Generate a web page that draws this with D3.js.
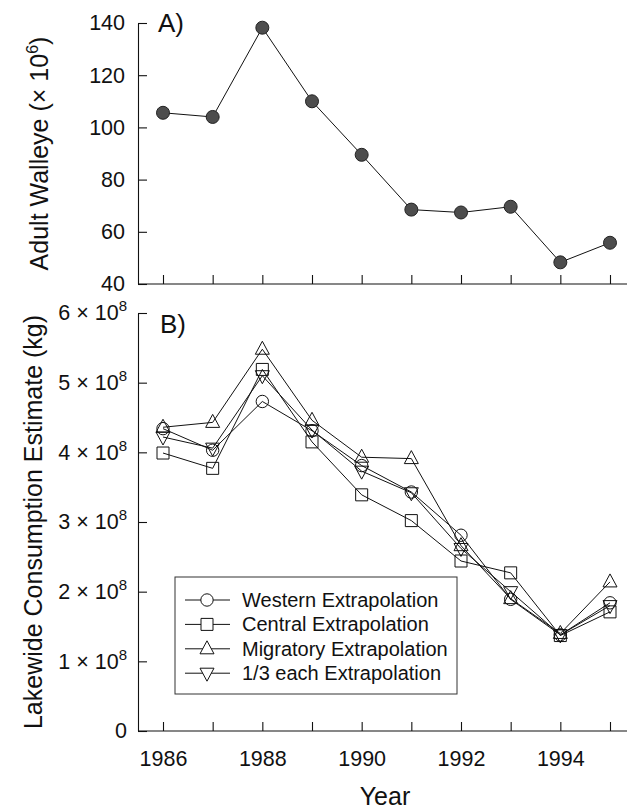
<!DOCTYPE html>
<html>
<head>
<meta charset="utf-8">
<script src="https://cdn.jsdelivr.net/npm/d3@7"></script>
<style>
  html, body { margin: 0; padding: 0; background: #fff; }
  svg { display: block; font-family: "Liberation Sans", Arial, Helvetica, sans-serif; }
</style>
</head>
<body>
<svg id="chart" width="628" height="809"></svg>
<script>
// ---------------- data ----------------
const years = [1986, 1987, 1988, 1989, 1990, 1991, 1992, 1993, 1994, 1995];
const walleye = [105.6, 104.0, 138.2, 110.0, 89.5, 68.5, 67.4, 69.6, 48.3, 55.8]; // x 10^6
const western   = [4.34, 4.03, 4.73, 4.31, 3.81, 3.43, 2.81, 1.89, 1.38, 1.84]; // x 10^8 kg
const central   = [3.99, 3.77, 5.19, 4.15, 3.39, 3.02, 2.44, 2.27, 1.37, 1.71];
const migratory = [4.36, 4.43, 5.48, 4.46, 3.93, 3.91, 2.66, 1.90, 1.40, 2.14];
const third     = [4.22, 4.06, 5.10, 4.32, 3.73, 3.42, 2.62, 2.00, 1.38, 1.80];
const seriesNames = ["Western Extrapolation", "Central Extrapolation", "Migratory Extrapolation", "1/3 each Extrapolation"];
const seriesShapes = ["circle", "square", "triangle", "triangleDown"];
const topTicks = [40, 60, 80, 100, 120, 140];
const botTicks = [0, 1, 2, 3, 4, 5, 6]; // x 10^8
const xLabelYears = [1986, 1988, 1990, 1992, 1994];

const seriesValues = [western, central, migratory, third];

// ---------------- layout ----------------
const svg = d3.select("#chart");
const axisX = 138, axisRight = 627;
const x = d3.scaleLinear().domain([1986, 1995]).range([163, 610]);
const yTop = d3.scaleLinear().domain([40, 140]).range([284, 23]);
const yBot = d3.scaleLinear().domain([0, 6]).range([731, 313]);
const ink = "#111";
const fontTick = 21.5;

function styleAxis(g) {
  g.selectAll("path.domain").attr("stroke", ink).attr("stroke-width", 1.1);
  g.selectAll(".tick line").attr("stroke", ink).attr("stroke-width", 1.1);
  g.selectAll(".tick text").attr("fill", ink).style("font-size", fontTick + "px")
    .style("font-family", "'Liberation Sans', Arial, Helvetica, sans-serif");
}

// ---------- Panel A ----------
const gAy = svg.append("g").attr("transform", `translate(${axisX},0)`)
  .call(d3.axisLeft(yTop).tickValues(topTicks).tickSizeInner(-9).tickSizeOuter(0).tickPadding(13));
styleAxis(gAy);

svg.append("line").attr("x1", axisX).attr("x2", axisRight)
  .attr("y1", yTop(40)).attr("y2", yTop(40)).attr("stroke", ink).attr("stroke-width", 1.1);
const gAx = svg.append("g").attr("transform", `translate(0,${yTop(40)})`)
  .call(d3.axisBottom(x).tickValues(years).tickSizeInner(-9).tickSizeOuter(0).tickFormat(""));
gAx.select("path.domain").remove();
styleAxis(gAx);

const lineA = d3.line().x((d, i) => x(years[i])).y(d => yTop(d));
svg.append("path").datum(walleye).attr("d", lineA)
  .attr("fill", "none").attr("stroke", ink).attr("stroke-width", 1);
svg.append("g").selectAll("circle").data(walleye).join("circle")
  .attr("cx", (d, i) => x(years[i])).attr("cy", d => yTop(d)).attr("r", 6.5)
  .attr("fill", "#4d4d4d").attr("stroke", "#222").attr("stroke-width", 1);

svg.append("text").attr("x", 158).attr("y", 32).text("A)")
  .attr("fill", ink).style("font-size", "26px");

const tA = svg.append("text")
  .attr("transform", `translate(48,${(yTop(40) + yTop(140)) / 2}) rotate(-90)`)
  .attr("text-anchor", "middle").attr("fill", ink).style("font-size", "25px");
tA.append("tspan").text("Adult Walleye (\u00d7 10");
tA.append("tspan").text("6").attr("dy", -10).style("font-size", "16px");
tA.append("tspan").text(")").attr("dy", 10);

// ---------- Panel B ----------
const gBy = svg.append("g").attr("transform", `translate(${axisX},0)`)
  .call(d3.axisLeft(yBot).tickValues(botTicks).tickSizeInner(-9).tickSizeOuter(0).tickPadding(11)
    .tickFormat(""));
styleAxis(gBy);
gBy.selectAll(".tick").each(function (d) {
  const t = d3.select(this).append("text")
    .attr("x", -11).attr("dy", "0.32em").attr("text-anchor", "end")
    .attr("fill", ink).style("font-size", fontTick + "px");
  if (d === 0) { t.text("0"); return; }
  t.append("tspan").text(d + " \u00d7 10");
  t.append("tspan").text("8").attr("dy", -9).style("font-size", "15px");
});

svg.append("line").attr("x1", axisX).attr("x2", axisRight)
  .attr("y1", yBot(0)).attr("y2", yBot(0)).attr("stroke", ink).attr("stroke-width", 1.1);
const gBx = svg.append("g").attr("transform", `translate(0,${yBot(0)})`)
  .call(d3.axisBottom(x).tickValues(years).tickSizeInner(-9).tickSizeOuter(0).tickPadding(20)
    .tickFormat(d => xLabelYears.includes(d) ? String(d) : ""));
gBx.select("path.domain").remove();
styleAxis(gBx);

svg.append("text").attr("x", 160).attr("y", 333).text("B)")
  .attr("fill", ink).style("font-size", "26px");

svg.append("text")
  .attr("transform", `translate(42,${(yBot(0) + yBot(6)) / 2}) rotate(-90)`)
  .attr("text-anchor", "middle").attr("fill", ink).style("font-size", "25px")
  .text("Lakewide Consumption Estimate (kg)");

svg.append("text").attr("x", 385).attr("y", 805).attr("text-anchor", "middle")
  .attr("fill", ink).style("font-size", "25px").text("Year");

function shapePath(shape, cx, cy) {
  const p = d3.path();
  if (shape === "circle") { p.moveTo(cx + 6.2, cy); p.arc(cx, cy, 6.2, 0, 2 * Math.PI); }
  else if (shape === "square") { p.rect(cx - 6, cy - 6, 12, 12); }
  else if (shape === "triangle") { p.moveTo(cx, cy - 8); p.lineTo(cx + 7, cy + 5); p.lineTo(cx - 7, cy + 5); p.closePath(); }
  else { p.moveTo(cx, cy + 8); p.lineTo(cx + 7, cy - 5); p.lineTo(cx - 7, cy - 5); p.closePath(); }
  return p.toString();
}

const lineB = d3.line().x((d, i) => x(years[i])).y(d => yBot(d));
seriesValues.forEach((vals, s) => {
  svg.append("path").datum(vals).attr("d", lineB)
    .attr("fill", "none").attr("stroke", ink).attr("stroke-width", 1);
  svg.append("g").selectAll("path").data(vals).join("path")
    .attr("d", (d, i) => shapePath(seriesShapes[s], x(years[i]), yBot(d)))
    .attr("fill", "none").attr("stroke", ink).attr("stroke-width", 1);
});

// legend
const lg = svg.append("g");
lg.append("rect").attr("x", 175).attr("y", 577).attr("width", 282).attr("height", 117)
  .attr("fill", "#fff").attr("stroke", "#333").attr("stroke-width", 1);
seriesNames.forEach((name, s) => {
  const cy = 600 + s * 24.4;
  lg.append("line").attr("x1", 185).attr("x2", 230).attr("y1", cy).attr("y2", cy)
    .attr("stroke", ink).attr("stroke-width", 1);
  lg.append("path").attr("d", shapePath(seriesShapes[s], 207, cy))
    .attr("fill", "#fff").attr("stroke", ink).attr("stroke-width", 1);
  lg.append("text").attr("x", 242).attr("y", cy).attr("dy", "0.35em")
    .attr("fill", ink).style("font-size", "20px").text(name);
});
</script>
</body>
</html>
